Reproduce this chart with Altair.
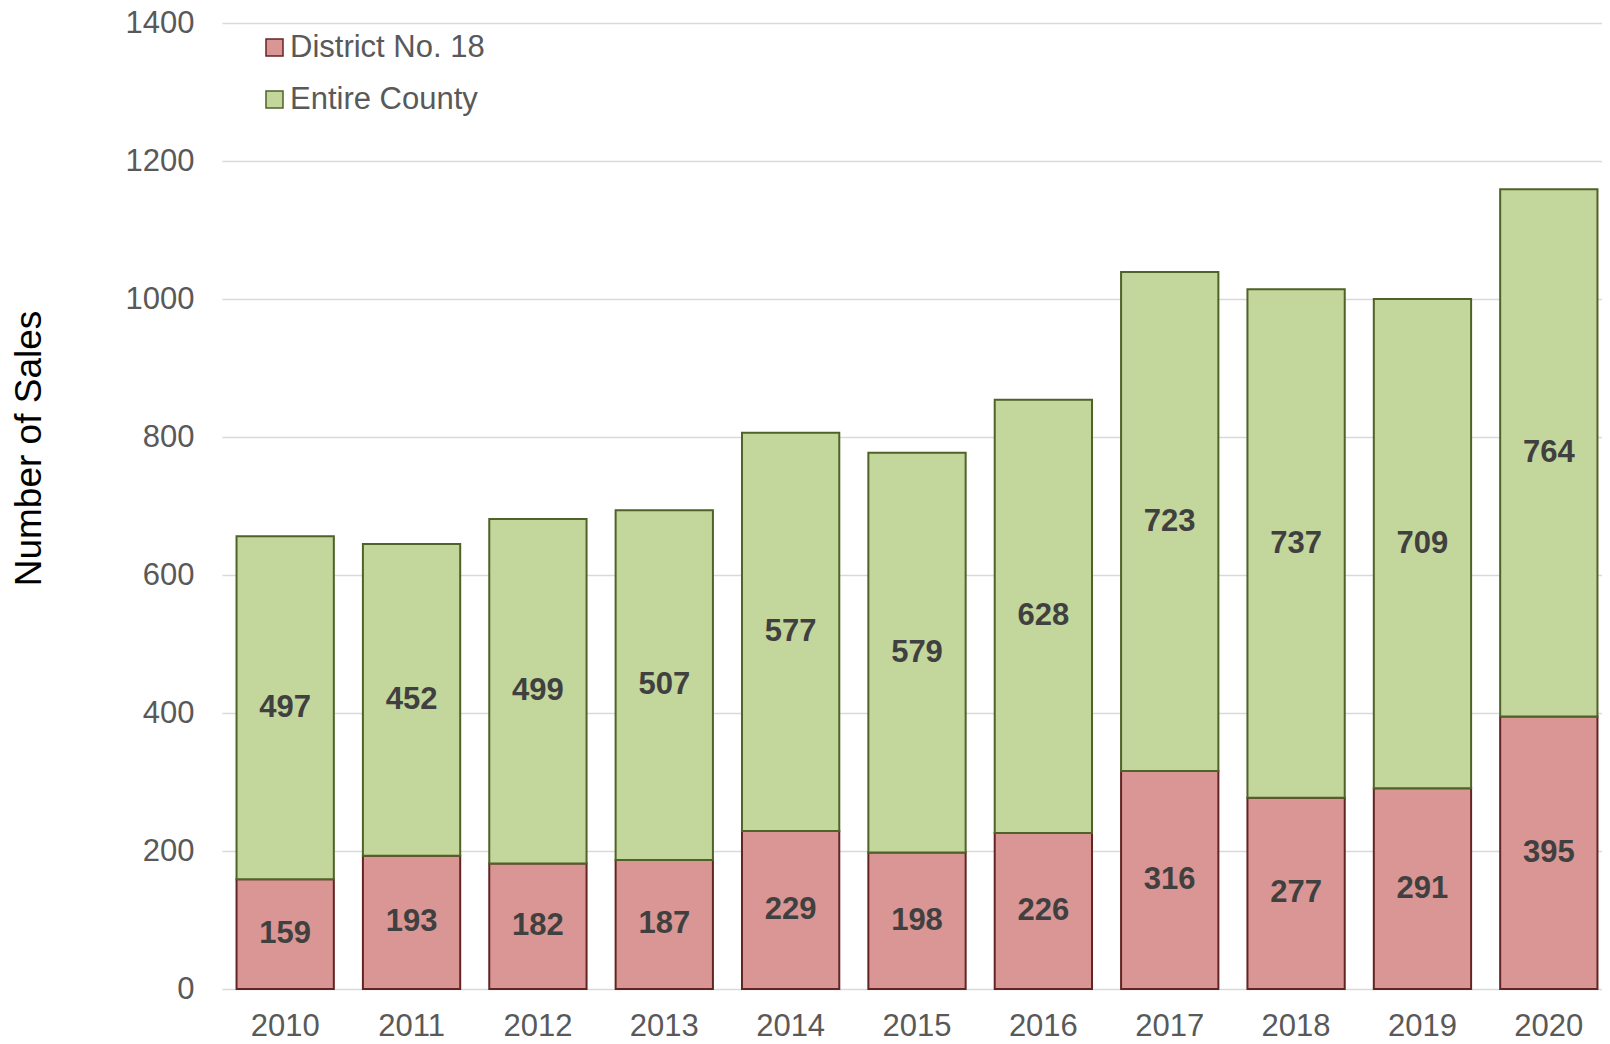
import altair as alt
import pandas as pd

years = ["2010", "2011", "2012", "2013", "2014", "2015", "2016", "2017", "2018", "2019", "2020"]
district = [159, 193, 182, 187, 229, 198, 226, 316, 277, 291, 395]
county = [497, 452, 499, 507, 577, 579, 628, 723, 737, 709, 764]
series_names = ["District No. 18", "Entire County"]
fills = ["#D99694", "#C3D69B"]
strokes = ["#632523", "#4F6228"]
y_ticks = [0, 200, 400, 600, 800, 1000, 1200, 1400]

rows = []
for i, y in enumerate(years):
    rows.append({"year": y, "series": series_names[0], "value": district[i], "order": 0})
    rows.append({"year": y, "series": series_names[1], "value": county[i], "order": 1})
df = pd.DataFrame(rows)

FONT = "Liberation Sans"

base = alt.Chart(df).transform_stack(
    stack="value", groupby=["year"], as_=["y0", "y1"], sort=[alt.SortField("order")]
).transform_calculate(mid="(datum.y0 + datum.y1) / 2")

xscale = alt.Scale(paddingInner=0.23, paddingOuter=0.115, range=[0, 1390])

xenc = alt.X(
    "year:N",
    sort=years,
    title=None,
    scale=xscale,
    axis=alt.Axis(
        labelFontSize=31, labelColor="#595959", labelFont=FONT, labelPadding=22,
        ticks=False, domain=False, grid=False, labelAngle=0,
    ),
)

legend_kw = dict(
    title=None, orient="none", legendX=37, legendY=9, padding=0,
    symbolType="square", symbolSize=289, symbolStrokeWidth=1.5,
    labelFontSize=31, labelFont=FONT, labelColor="#595959",
    labelOffset=0, rowPadding=20, labelLimit=0,
)

bars = base.mark_bar(strokeWidth=2).encode(
    x=xenc,
    y=alt.Y(
        "y0:Q",
        scale=alt.Scale(domain=[0, 1400], nice=False),
        title="Number of Sales",
        axis=alt.Axis(
            values=y_ticks, format="d", labelFontSize=31, labelColor="#595959", labelFont=FONT,
            labelPadding=28, ticks=False, domain=False, grid=True,
            gridColor="#D9D9D9", gridWidth=1.5,
            titleFontSize=37, titleFont=FONT, titleColor="#000000", titleFontWeight="normal",
            titleX=-193, titleY=425, titleAngle=-90, titleAlign="center", titleBaseline="middle",
        ),
    ),
    y2="y1:Q",
    fill=alt.Fill(
        "series:N",
        scale=alt.Scale(domain=series_names, range=fills),
        legend=alt.Legend(**legend_kw),
    ),
    stroke=alt.Stroke(
        "series:N",
        scale=alt.Scale(domain=series_names, range=strokes),
        legend=alt.Legend(**legend_kw),
    ),
)

labels = base.mark_text(
    font=FONT, fontSize=31, fontWeight="bold", color="#404040", baseline="middle"
).encode(
    x=alt.X("year:N", sort=years, scale=xscale),
    y=alt.Y("mid:Q"),
    text=alt.Text("value:Q"),
)

chart = alt.layer(bars, labels).properties(
    width=1380,
    height=966,
    padding={"left": 214, "top": 15, "right": 0, "bottom": 47},
    autosize=alt.AutoSizeParams(type="none"),
).configure_view(stroke=None)

chart.save("out.html", embed_options={"renderer": "svg", "actions": False})
